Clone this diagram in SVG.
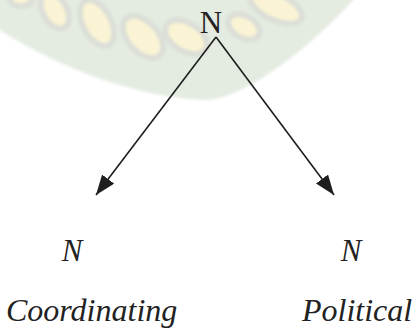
<svg xmlns="http://www.w3.org/2000/svg" width="416" height="330" viewBox="0 0 416 330">
<style>
.wm{fill:#e4ebe1}
.leaf{fill:#fbf4d4;stroke:#dcdfd8;stroke-width:6}
.edge{stroke:#1e1e1e;stroke-width:1.6;fill:none}
.up{font-family:"Liberation Serif",serif;font-size:31px;fill:#222}
.it{font-family:"Liberation Serif",serif;font-style:italic;fill:#222}
</style>
<defs>
<marker id="ah" markerUnits="userSpaceOnUse" markerWidth="22" markerHeight="16" refX="20" refY="7.5" orient="auto">
<path d="M0,0 L20,7.5 L0,15 Z" fill="#1e1e1e"/>
</marker>
<filter id="soft" x="-5%" y="-20%" width="110%" height="140%"><feGaussianBlur stdDeviation="1.8"/></filter>
</defs>
<g id="watermark" filter="url(#soft)">
<path class="wm" d="M-10,-10 L-10,24 C60,70 140,98 205,100 C245,100 320,40 362,-10 Z"/>
<ellipse class="leaf" cx="21" cy="0" rx="11" ry="6"/>
<ellipse class="leaf" cx="55" cy="11" rx="12" ry="19" transform="rotate(-30 55 11)"/>
<ellipse class="leaf" cx="97" cy="23" rx="14" ry="25" transform="rotate(-28 97 23)"/>
<ellipse class="leaf" cx="143" cy="37" rx="15" ry="25" transform="rotate(-42 143 37)"/>
<ellipse class="leaf" cx="186" cy="37" rx="14" ry="23" transform="rotate(-58 186 37)"/>
<ellipse class="leaf" cx="244" cy="27" rx="11" ry="17" transform="rotate(-60 244 27)"/>
<ellipse class="leaf" cx="276" cy="7" rx="13" ry="28" transform="rotate(-65 276 7)"/>
</g>
<g id="connectors">
<path class="edge" d="M216,37 L96,195" marker-end="url(#ah)"/>
<path class="edge" d="M216,37 L334,195" marker-end="url(#ah)"/>
</g>
<g id="node-root"><text class="up" x="211" y="33" text-anchor="middle">N</text></g>
<g id="node-left">
<text class="it" x="72" y="261" font-size="31" text-anchor="middle">N</text>
<text class="it" x="6" y="321" font-size="32">Coordinating</text>
</g>
<g id="node-right">
<text class="it" x="351" y="261" font-size="31" text-anchor="middle">N</text>
<text class="it" x="302" y="321" font-size="32">Political</text>
</g>
</svg>
